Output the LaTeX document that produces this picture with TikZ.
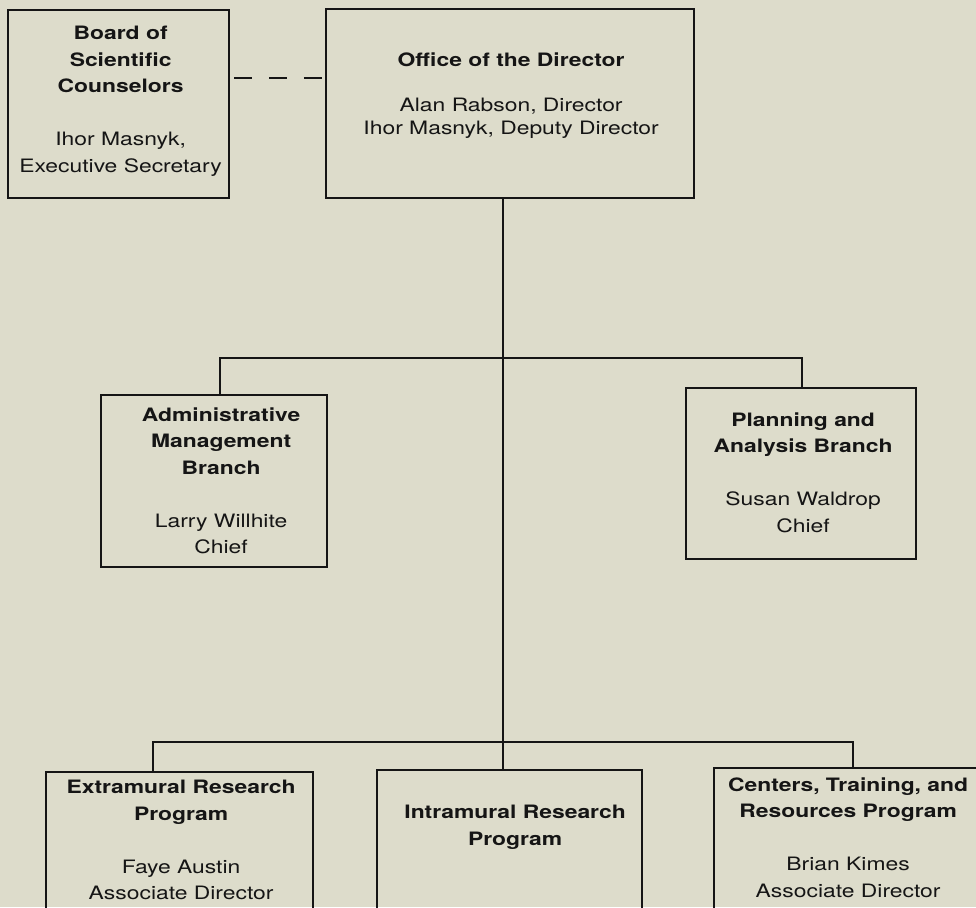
\documentclass[tikz,border=0pt]{standalone}
\usepackage{fontspec}
\setmainfont[FakeStretch=1.24]{TeX Gyre Heros}
\usetikzlibrary{calc}
\definecolor{paper}{HTML}{DDDCCB}
\definecolor{ink}{HTML}{151515}

\tikzset{
  orgbox/.style={draw=ink,line width=1.3pt,inner sep=0pt,anchor=north west},
  orgtxt/.style={align=center,anchor=north,inner sep=0pt,text=ink,
    font=\fontsize{10.5}{15.1}\selectfont},
  wire/.style={draw=ink,line width=1.2pt},
}

\begin{document}
\begin{tikzpicture}[x=0.02cm,y=-0.02cm]
  % page, in pixel units
  \useasboundingbox (0,0) rectangle (976,907);
  \clip (0,0) rectangle (976,907);
  \fill[paper] (0,0) rectangle (976,907);

  % boxes
  \node[orgbox,minimum width=4.42cm,minimum height=3.76cm] (board) at (7,9) {};
  \node[orgbox,minimum width=7.36cm,minimum height=3.78cm] (office) at (325,8) {};
  \node[orgbox,minimum width=4.52cm,minimum height=3.44cm] (admin) at (100,394) {};
  \node[orgbox,minimum width=4.60cm,minimum height=3.42cm] (plan) at (685,387) {};
  \node[orgbox,minimum width=5.34cm,minimum height=3.08cm] (extra) at (45,771) {};
  \node[orgbox,minimum width=5.30cm,minimum height=3.12cm] (intra) at (376,769) {};
  \node[orgbox,minimum width=5.32cm,minimum height=3.16cm] (ctr) at (713,767) {};

  % texts
  \node[orgtxt] (boardtxt) at ($(board.north)+(2,17)$)
    {\textbf{Board of}\\\textbf{Scientific}\\\textbf{Counselors}\\[15.1pt]
     Ihor Masnyk,\\Executive Secretary};
  \node[orgtxt,font=\fontsize{10.5}{12.9}\selectfont] (officetxt) at ($(office.north)+(1,44)$)
    {\textbf{Office of the Director}\\[12.9pt]
     Alan Rabson, Director\\Ihor Masnyk, Deputy Director};
  \node[orgtxt] (admintxt) at ($(admin.north)+(7,13)$)
    {\textbf{Administrative}\\\textbf{Management}\\\textbf{Branch}\\[15.1pt]
     Larry Willhite\\Chief};
  \node[orgtxt] (plantxt) at ($(plan.north)+(2,25)$)
    {\textbf{Planning and}\\\textbf{Analysis Branch}\\[15.1pt]
     Susan Waldrop\\Chief};
  \node[orgtxt] (extratxt) at ($(extra.north)+(1.5,9)$)
    {\textbf{Extramural Research}\\\textbf{Program}\\[15.1pt]
     Faye Austin\\Associate Director};
  \node[orgtxt] (intratxt) at ($(intra.north)+(5.5,36)$)
    {\textbf{Intramural Research}\\\textbf{Program}};
  \node[orgtxt] (ctrtxt) at ($(ctr.north)+(1,10)$)
    {\textbf{Centers, Training, and}\\\textbf{Resources Program}\\[15.1pt]
     Brian Kimes\\Associate Director};

  % connectors
  \coordinate (trunk) at ($(office.south)+(-7,0)$);
  \coordinate (bar1) at (trunk |- 0,358);
  \coordinate (bar2) at (trunk |- 0,742);
  \draw[wire] (trunk) -- (trunk |- intra.north);
  \draw[wire] ($(admin.north)+(6,0)$) |- (bar1) -| ($(plan.north)+(1,0)$);
  \draw[wire] ($(extra.north)+(-27,0)$) |- (bar2) -| ($(ctr.north)+(6,0)$);
  \draw[wire,dash pattern=on 10.2pt off 9.64pt,dash phase=17.57pt]
    ($(board.north east)+(0,69)$) -- ($(office.north west)+(0,70)$);
\end{tikzpicture}
\end{document}
